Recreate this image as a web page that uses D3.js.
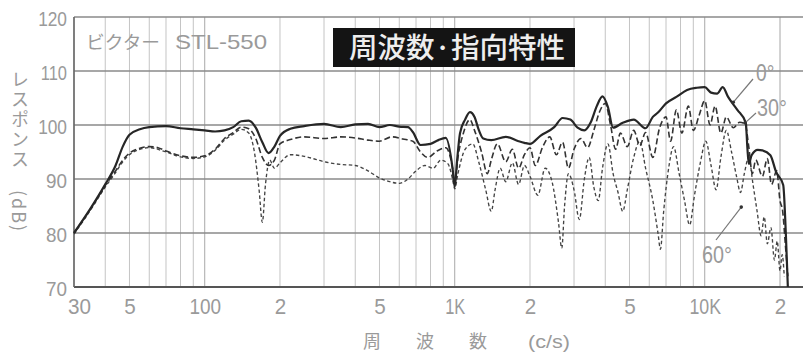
<!DOCTYPE html>
<html>
<head>
<meta charset="utf-8">
<script src="https://cdn.jsdelivr.net/npm/d3@7"></script>
<style>
  body { margin: 0; background: #fff; }
  svg { display: block; }
  .num { font-family: "Liberation Sans", "DejaVu Sans", sans-serif; fill: #9a9a9a; }
  .jp { font-family: "Noto Sans CJK JP", "Noto Sans", sans-serif; fill: #9a9a9a; }
</style>
</head>
<body>
<svg id="chart" width="803" height="355"></svg>
<script>
// Frequency response of the Victor STL-550 measured on axis, 30° and 60° off axis.
// Frequencies in Hz, levels in dB.

const yTicks = [70, 80, 90, 100, 110, 120];
const xTickFreqs = [30, 50, 100, 200, 500, 1000, 2000, 5000, 10000, 20000];
const xTickLabels = ["30", "5", "100", "2", "5", "1K", "2", "5", "10K", "2"];

const freq0 = [30, 35, 40, 44, 47, 50, 55, 60, 70, 80, 90, 100, 110, 120, 130, 140, 150, 160, 170, 180,
  190, 200, 220, 250, 300, 350, 400, 450, 500, 550, 600, 650, 680, 730, 800, 860, 920, 980, 1000, 1020,
  1050, 1100, 1150, 1200, 1250, 1300, 1400, 1600, 1800, 1900, 2000, 2200, 2500, 2700, 2900, 3100, 3300,
  3500, 3700, 3900, 4100, 4300, 4700, 5200, 5800, 6200, 6500, 7000, 7700, 8500, 9300, 10000, 10600,
  11200, 11800, 12400, 13500, 14600, 14800, 15000, 15400, 16300, 17000, 18300, 19300, 20600, 21100, 21500];
const db0 = [80, 84.6, 89, 92.5, 96, 98.2, 99.2, 99.6, 99.8, 99.4, 99.2, 99.0, 98.8, 99.0, 99.6, 100.7,
  100.8, 99.5, 96.8, 94.8, 96.0, 98.0, 99.3, 99.8, 100.2, 99.6, 100.1, 100.2, 99.6, 100.0, 99.7, 99.6,
  98.7, 96.3, 96.5, 97.2, 97.6, 92, 88.5, 93, 98.5, 101, 102.4, 101.5, 99, 97.5, 97.2, 97.8, 97.0, 96.7,
  96.5, 98.0, 99.6, 101.3, 101.0, 99.5, 99.0, 100.5, 103.5, 105.3, 103.3, 99.5, 100.4, 101.0, 99.4,
  101.5, 102.3, 104.0, 105.2, 106.5, 106.9, 107.0, 106.0, 105.8, 107.0, 105.2, 102.8, 100.4, 96, 92.8,
  94.4, 95.4, 95.3, 94.4, 91.3, 88.9, 80, 70];

const freq30 = [30, 35, 40, 44, 47, 50, 55, 60, 65, 70, 80, 90, 100, 110, 120, 130, 140, 150, 160, 170,
  180, 190, 200, 220, 250, 300, 350, 400, 450, 500, 560, 620, 680, 730, 780, 850, 920, 980, 1000, 1030,
  1080, 1150, 1200, 1280, 1350, 1400, 1480, 1600, 1700, 1800, 1900, 2000, 2100, 2250, 2400, 2550, 2700,
  2850, 3000, 3200, 3400, 3600, 3800, 4000, 4200, 4400, 4600, 4900, 5200, 5500, 5800, 6200, 6600, 7000,
  7300, 7700, 8100, 8600, 9000, 9500, 10000, 10500, 11000, 11600, 12200, 13000, 13800, 14500, 15000,
  15500, 16000, 17000, 17800, 18500, 19400, 20000, 20500, 21000, 21500];
const db30 = [80, 84.5, 88.8, 91.5, 93.5, 94.8, 95.7, 96.0, 95.8, 95.2, 94.3, 94.0, 94.3, 95.5, 97.5,
  98.6, 99.6, 99.3, 97.5, 94, 92.5, 93.5, 96.5, 97.3, 97.8, 97.5, 97.8, 97.6, 97.2, 97.0, 97.8, 97.4,
  97.0, 95.0, 94.0, 95.2, 95.8, 92, 89, 94, 98.3, 101.0, 99, 95, 91, 93.5, 96.5, 93.2, 95.5, 92.0, 94.5,
  95.8, 92.5, 96.0, 97.8, 94.5, 96.8, 92, 95.5, 97.5, 95.8, 99.0, 102.5, 104.0, 100, 95.5, 98.5, 96,
  99.0, 96.2, 98.6, 94.0, 99.5, 101.5, 97, 102.8, 98.5, 103.5, 99, 101.8, 104.5, 100, 103.5, 98.5, 101.5,
  99.5, 100.5, 100.2, 96, 91, 93.5, 90.5, 93.8, 89, 91.5, 86, 84, 78, 72];

const freq60 = [30, 35, 40, 44, 47, 50, 55, 60, 70, 80, 90, 100, 110, 120, 130, 140, 150, 158, 165, 170,
  175, 182, 190, 200, 220, 250, 280, 300, 350, 400, 450, 500, 550, 600, 650, 700, 760, 820, 880, 940, 980,
  1000, 1030, 1100, 1180, 1250, 1330, 1400, 1450, 1520, 1600, 1700, 1800, 1900, 2000, 2150, 2300, 2450,
  2600, 2680, 2750, 2850, 3000, 3150, 3300, 3450, 3600, 3750, 3900, 4100, 4300, 4500, 4700, 4900, 5200,
  5500, 5800, 6200, 6500, 6650, 6850, 7200, 7500, 7900, 8300, 8700, 9100, 9600, 10100, 10600, 11100,
  11600, 12200, 12800, 13400, 13900, 14400, 15000, 15600, 16200, 16800, 17300, 17800, 18400, 19000,
  19500, 20000, 20400, 20800];
const db60 = [79.8, 84.3, 88.5, 91.2, 93.2, 94.5, 95.5, 95.8, 95, 94.1, 93.8, 94.1, 95.3, 97.2, 98.3,
  99.2, 98.5, 95, 88, 82, 89, 93.5, 92.0, 93.0, 94.5, 94.2, 93.6, 93.2, 92.7, 92.5, 91.5, 90.2, 89.5,
  89.2, 90, 91.5, 92.5, 92.0, 93.5, 92.8, 90, 88.2, 91, 95.5, 96.5, 93, 88, 84.0, 88, 92, 89.5, 93, 89,
  92.5, 90.5, 87, 92, 89.5, 82, 77.2, 85, 91, 88, 82.5, 90, 94, 88.5, 86, 92, 96.5, 91, 87.5, 84, 88, 94,
  97, 92, 86, 80, 77, 84, 92.5, 96, 91, 86, 81.5, 87, 93, 97, 92.5, 88, 94, 99, 95, 90.5, 87.5, 91, 94,
  89, 84, 79.5, 83, 78, 81, 75, 78.5, 73, 76, 72];

const seriesNames = ["0°", "30°", "60°"];

const svg = d3.select("#chart");
const W = 803, H = 355;
const plotLeft = 74, plotTop = 17, plotBottom = 287;

const x = d3.scaleLog().domain([30, 20000]).range([74, 780]);
const y = d3.scaleLinear().domain([70, 120]).range([plotBottom, plotTop]);

// condensed look for numerals: squeeze each label to a fixed advance per character
function narrow(sel, perChar) {
  sel.each(function () {
    const t = d3.select(this);
    const s = t.text();
    let w = 0;
    for (const c of s) w += c === "°" ? perChar * 0.6 : (c === "1" ? perChar * 0.75 : perChar);
    t.attr("textLength", w).attr("lengthAdjust", "spacingAndGlyphs");
  });
}

// vertical grid: every 1-2-3...9 step of each decade
const gridFreqs = [];
[10, 100, 1000, 10000].forEach(d => d3.range(1, 10).forEach(k => {
  const f = d * k;
  if (f >= 30 && f <= 20000) gridFreqs.push(f);
}));
gridFreqs.push(20000);

const grid = svg.append("g");
grid.selectAll("line.v").data(gridFreqs).join("line")
  .attr("x1", d => x(d)).attr("x2", d => x(d))
  .attr("y1", plotTop).attr("y2", plotBottom)
  .attr("stroke", d => [100, 1000, 10000].includes(d) ? "#a8a8a8" : "#c4c4c4")
  .attr("stroke-width", 1);

grid.selectAll("line.h").data(yTicks).join("line")
  .attr("x1", plotLeft).attr("x2", W)
  .attr("y1", d => y(d)).attr("y2", d => y(d))
  .attr("stroke", d => d === 70 ? "#555" : "#8a8a8a")
  .attr("stroke-width", d => d === 70 ? 2.2 : d === 120 ? 1.6 : 1.3);

svg.append("line")
  .attr("x1", plotLeft).attr("x2", plotLeft).attr("y1", plotTop).attr("y2", plotBottom)
  .attr("stroke", "#666").attr("stroke-width", 1.6);

// axes (labels only)
const yAxis = d3.axisLeft(y).tickValues(yTicks).tickSize(0).tickPadding(7);
const gy = svg.append("g").attr("transform", `translate(${plotLeft},0)`).call(yAxis);
gy.select(".domain").remove();
gy.selectAll("text").attr("class", "num").attr("font-size", 20).attr("dy", "0.4em").attr("fill", null)
  .call(narrow, 10.5);

const xAxis = d3.axisBottom(x).tickValues(xTickFreqs).tickSize(0).tickPadding(11)
  .tickFormat((d, i) => xTickLabels[i]);
const gx = svg.append("g").attr("transform", `translate(0,${plotBottom})`).call(xAxis);
gx.select(".domain").remove();
gx.selectAll("text").attr("class", "num").attr("font-size", 22).attr("fill", null)
  .attr("dx", (d, i) => i === 0 ? 5 : 0)
  .call(narrow, 11.5);

// response curves
const line = d3.line().x(d => x(d[0])).y(d => y(d[1])).curve(d3.curveMonotoneX);
const zip = (f, v) => f.map((d, i) => [d, v[i]]);
const curves = [
  { data: zip(freq60, db60), width: 1.35, dash: "3.5,2.5", color: "#444" },
  { data: zip(freq30, db30), width: 1.6, dash: "6,3", color: "#333" },
  { data: zip(freq0, db0), width: 2.2, dash: null, color: "#262626" }
];
svg.append("g").selectAll("path").data(curves).join("path")
  .attr("d", d => line(d.data))
  .attr("fill", "none")
  .attr("stroke", d => d.color)
  .attr("stroke-width", d => d.width)
  .attr("stroke-dasharray", d => d.dash)
  .attr("stroke-linejoin", "round");

// series labels with leaders
const leaders = [
  { name: seriesNames[0], f: 13000, v: 104.2, tx: 756, ty: 81, lx: 753, ly: 79 },
  { name: seriesNames[1], f: 14500, v: 100.4, tx: 757, ty: 116, lx: 756, ly: 113 },
  { name: seriesNames[2], f: 14000, v: 84.8, tx: 702, ty: 263, lx: 716, ly: 240 }
];
const lg = svg.append("g");
lg.selectAll("line").data(leaders).join("line")
  .attr("x1", d => d.lx).attr("y1", d => d.ly)
  .attr("x2", d => x(d.f)).attr("y2", d => y(d.v))
  .attr("stroke", "#777").attr("stroke-width", 1.2);
lg.selectAll("circle").data(leaders).join("circle")
  .attr("cx", d => x(d.f)).attr("cy", d => y(d.v)).attr("r", 1.8).attr("fill", "#333");
lg.selectAll("text").data(leaders).join("text")
  .attr("class", "num").attr("font-size", 24)
  .attr("x", d => d.tx).attr("y", d => d.ty)
  .text(d => d.name)
  .call(narrow, 11.5);

// model label
svg.append("text").attr("class", "jp").attr("x", 86).attr("y", 49)
  .attr("font-size", 18).attr("textLength", 74).attr("lengthAdjust", "spacingAndGlyphs")
  .text("ビクター");
svg.append("text").attr("class", "num").attr("x", 175).attr("y", 49)
  .attr("font-size", 21).attr("textLength", 92).attr("lengthAdjust", "spacingAndGlyphs")
  .text("STL-550");

// title plate
svg.append("rect").attr("x", 333).attr("y", 28).attr("width", 242).attr("height", 39).attr("fill", "#141414");
svg.append("text").attr("x", 349).attr("y", 58)
  .attr("font-family", "'Noto Sans CJK JP', sans-serif").attr("font-size", 28).attr("font-weight", 500)
  .attr("fill", "#eeeeee").attr("textLength", 216).attr("lengthAdjust", "spacingAndGlyphs")
  .text("周波数·指向特性");

// y axis title, set vertically (the Latin unit turns sideways)
svg.append("text").attr("class", "jp")
  .attr("x", 20).attr("y", 70)
  .attr("font-size", 18)
  .style("writing-mode", "vertical-rl")
  .style("text-orientation", "mixed")
  .attr("letter-spacing", 2)
  .text("レスポンス\u3000(dB)");

// x axis title
svg.append("text").attr("class", "jp").attr("font-size", 18)
  .attr("x", 363).attr("y", 348)
  .attr("textLength", 124).attr("lengthAdjust", "spacing")
  .text("周波数");
svg.append("text").attr("class", "num").attr("font-size", 18).attr("text-anchor", "middle")
  .attr("x", 549).attr("y", 348).attr("textLength", 42).attr("lengthAdjust", "spacingAndGlyphs")
  .text("(c/s)");
</script>
</body>
</html>
